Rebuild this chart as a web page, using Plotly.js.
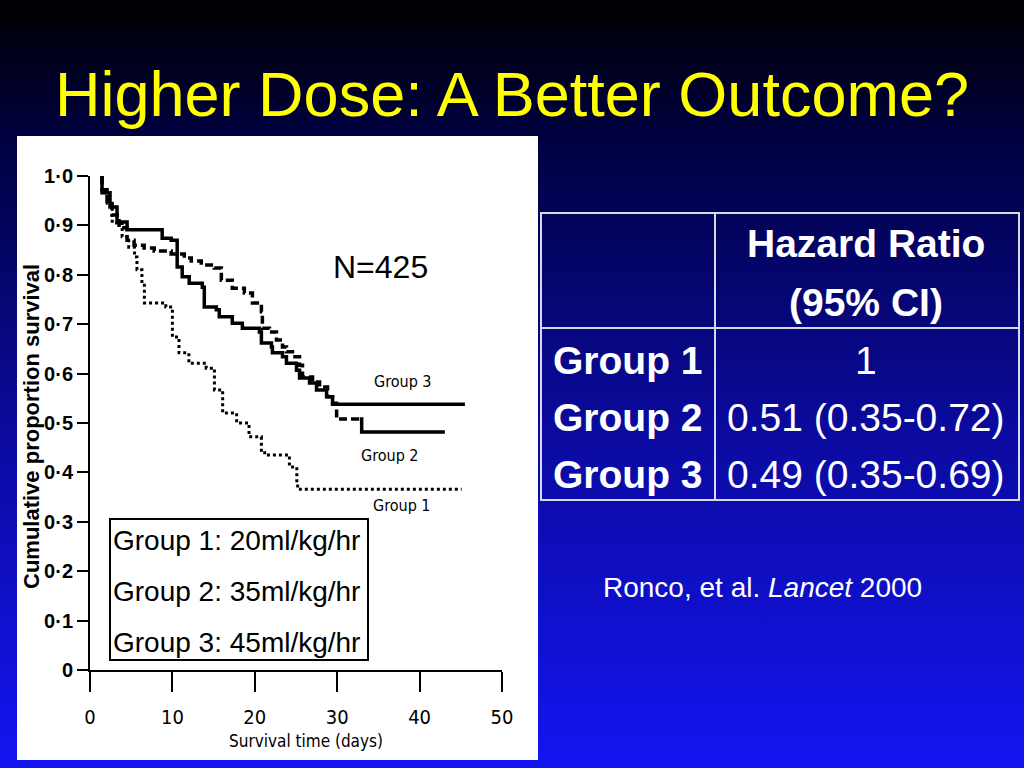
<!DOCTYPE html>
<html>
<head>
<meta charset="utf-8">
<script src="https://cdn.plot.ly/plotly-3.0.1.min.js"></script>
<style>
  html, body { margin: 0; padding: 0; width: 1024px; height: 768px; overflow: hidden; }
  body { background: linear-gradient(180deg, #000000 0%, #000040 18%, #0a0a9c 55%, #1414f2 100%); }
  #chart { width: 1024px; height: 768px; }
</style>
</head>
<body>
<div id="chart"></div>
<script>
// ---- Data ----
const xTicks = [0, 10, 20, 30, 40, 50];
const yTicks = [0, 0.1, 0.2, 0.3, 0.4, 0.5, 0.6, 0.7, 0.8, 0.9, 1.0];
const yTickText = ['0', '0·1', '0·2', '0·3', '0·4', '0·5', '0·6', '0·7', '0·8', '0·9', '1·0'];
const xTitle = 'Survival time (days)';
const yTitle = 'Cumulative proportion survival';

// Group 1 (20 ml/kg/hr) – dotted
const g1Days = [1.46, 1.46, 2.1, 2.7, 3.9, 4.7, 5.4, 5.7, 6.3, 6.6, 9.2, 10.0, 10.0, 10.8, 12.0, 14.1, 15.1, 16.1, 17.8, 19.3, 20.8, 21.2, 24.2, 25.1, 25.2, 45.1];
const g1Surv = [1.0, 0.966, 0.945, 0.905, 0.877, 0.856, 0.836, 0.810, 0.783, 0.743, 0.735, 0.723, 0.674, 0.642, 0.621, 0.611, 0.567, 0.520, 0.500, 0.472, 0.445, 0.435, 0.411, 0.379, 0.366, 0.366];

// Group 2 (35 ml/kg/hr) – dashed, last plateau drawn solid
const g2Days = [1.46, 1.46, 2.07, 2.68, 3.53, 4.50, 5.35, 6.57, 7.79, 9.85, 11.44, 12.29, 13.50, 15.09, 15.94, 17.27, 18.73, 19.71, 20.80, 20.92, 21.78, 22.63, 23.36, 23.84, 24.57, 25.43, 25.79, 27.01, 27.86, 28.83, 29.44, 29.93, 32.73];
const g2Surv = [1.0, 0.972, 0.941, 0.921, 0.895, 0.870, 0.860, 0.854, 0.848, 0.842, 0.834, 0.828, 0.820, 0.814, 0.789, 0.773, 0.763, 0.743, 0.725, 0.692, 0.684, 0.668, 0.654, 0.644, 0.634, 0.617, 0.593, 0.583, 0.573, 0.553, 0.540, 0.508, 0.508];
const g2TailDays = [32.73, 32.97, 43.07];
const g2TailSurv = [0.508, 0.482, 0.482];

// Group 3 (45 ml/kg/hr) – solid
const g3Days = [1.46, 1.46, 2.43, 3.28, 4.50, 8.76, 9.85, 10.58, 11.19, 12.04, 13.63, 13.87, 15.33, 15.69, 17.27, 18.49, 20.56, 20.80, 22.02, 22.14, 23.36, 23.84, 25.06, 25.43, 26.64, 27.49, 28.71, 29.44, 45.5];
const g3Surv = [1.0, 0.966, 0.937, 0.907, 0.891, 0.874, 0.870, 0.816, 0.796, 0.783, 0.775, 0.735, 0.729, 0.715, 0.702, 0.692, 0.684, 0.662, 0.654, 0.642, 0.634, 0.621, 0.607, 0.591, 0.581, 0.567, 0.553, 0.538, 0.538];

const groupNames = ['Group 1', 'Group 2', 'Group 3'];
const doses = ['20ml/kg/hr', '35ml/kg/hr', '45ml/kg/hr'];
const hazardText = ['1', '0.51 (0.35-0.72)', '0.49 (0.35-0.69)'];
const sampleSize = 'N=425';

// ---- Helpers: page pixel -> paper coordinates (margins are zero) ----
const W = 1024, H = 768;
const px = x => x / W;
const py = y => 1 - y / H;

const SANS = 'Liberation Sans, Arial, Helvetica, sans-serif';
const COND = 'DejaVu Sans Condensed, Liberation Sans Narrow, Arial Narrow, sans-serif';

const kmLine = (x, y, name, dash, width) => ({
  type: 'scatter', mode: 'lines', x: x, y: y, name: name,
  line: { shape: 'hv', color: '#000000', width: width, dash: dash },
  hoverinfo: 'skip', showlegend: false
});

const traces = [
  kmLine(g1Days, g1Surv, groupNames[0], 'dot', 3),
  kmLine(g2Days, g2Surv, groupNames[1], '8px,4px', 3.5),
  kmLine(g2TailDays, g2TailSurv, groupNames[1] + ' (plateau)', 'solid', 3.5),
  kmLine(g3Days, g3Surv, groupNames[2], 'solid', 3.5)
];

const shapes = [
  // white picture panel
  { type: 'rect', xref: 'paper', yref: 'paper', x0: px(17), x1: px(538), y0: py(760), y1: py(136),
    fillcolor: '#ffffff', line: { width: 0 }, layer: 'below' },
  // dose legend box
  { type: 'rect', xref: 'paper', yref: 'paper', x0: px(110), x1: px(368), y0: py(660), y1: py(519),
    fillcolor: 'rgba(0,0,0,0)', line: { color: '#000000', width: 2 } },
  // table frame
  { type: 'rect', xref: 'paper', yref: 'paper', x0: px(541), x1: px(1019), y0: py(500), y1: py(213),
    fillcolor: 'rgba(0,0,0,0)', line: { color: '#d8d8e8', width: 2 } },
  { type: 'line', xref: 'paper', yref: 'paper', x0: px(715), x1: px(715), y0: py(500), y1: py(213),
    line: { color: '#d8d8e8', width: 2 } },
  { type: 'line', xref: 'paper', yref: 'paper', x0: px(541), x1: px(1019), y0: py(328), y1: py(328),
    line: { color: '#d8d8e8', width: 2 } }
];

const annotations = [];
const addText = (text, x, y, size, opts) => annotations.push(Object.assign({
  xref: 'paper', yref: 'paper', x: px(x), y: py(y), text: text, showarrow: false,
  xanchor: 'center', yanchor: 'middle', font: { family: SANS, size: size, color: '#000000' }
}, opts || {}));

// axis titles
addText('<b>' + yTitle + '</b>', 31, 427, 22, { textangle: -90 });
addText(xTitle, 306, 741, 17, { font: { family: COND, size: 17, color: '#000000' } });

// chart annotations
addText(sampleSize, 380, 267, 32);
addText(groupNames[2], 403, 381, 16, { font: { family: COND, size: 16, color: '#000000' } });
addText(groupNames[1], 390, 455, 16, { font: { family: COND, size: 16, color: '#000000' } });
addText(groupNames[0], 402, 505, 16, { font: { family: COND, size: 16, color: '#000000' } });
const legendY = [540, 591, 642];
groupNames.forEach((g, i) => addText(g + ': ' + doses[i], 111, legendY[i], 28, { xanchor: 'left' }));

// table
const white = '#ffffff';
addText('<b>Hazard Ratio</b>', 866, 243, 39, { font: { family: SANS, size: 39, color: white } });
addText('<b>(95% CI)</b>', 866, 302, 39, { font: { family: SANS, size: 39, color: white } });
const rowY = [360, 417, 474];
groupNames.forEach((g, i) => {
  addText('<b>' + g + '</b>', 551, rowY[i], 39, { xanchor: 'left', font: { family: SANS, size: 39, color: white } });
  addText(hazardText[i], 866, rowY[i], 39, { font: { family: SANS, size: 39, color: white } });
});

// citation
addText('Ronco, et al. <i>Lancet</i> 2000', 762, 587, 28, { font: { family: SANS, size: 28, color: white } });

const layout = {
  width: W, height: H,
  margin: { l: 0, r: 0, t: 0, b: 0 },
  paper_bgcolor: 'rgba(0,0,0,0)',
  plot_bgcolor: 'rgba(0,0,0,0)',
  showlegend: false,
  title: {
    text: 'Higher Dose: A Better Outcome?',
    font: { family: SANS, size: 63, color: '#ffff00' },
    x: 0.5, xanchor: 'center', xref: 'paper',
    y: py(94), yanchor: 'middle', yref: 'container'
  },
  xaxis: {
    domain: [px(90), px(502)],
    range: [0, 50],
    tickvals: xTicks,
    ticktext: xTicks.map(String),
    ticks: 'outside', ticklen: 20, tickwidth: 2, tickcolor: '#000000',
    ticklabelstandoff: 8,
    showline: true, linecolor: '#000000', linewidth: 2,
    showgrid: false, zeroline: false,
    tickfont: { family: COND, size: 20, color: '#000000' },
    fixedrange: true
  },
  yaxis: {
    domain: [py(670), py(176)],
    range: [0, 1],
    tickvals: yTicks,
    ticktext: yTickText.map(t => '<b>' + t + '</b>'),
    ticks: 'outside', ticklen: 11, tickwidth: 2, tickcolor: '#000000',
    showline: true, linecolor: '#000000', linewidth: 2,
    showgrid: false, zeroline: false,
    tickfont: { family: SANS, size: 20, color: '#000000' },
    fixedrange: true
  },
  shapes: shapes,
  annotations: annotations
};

Plotly.newPlot('chart', traces, layout, { staticPlot: true, displayModeBar: false });
</script>
</body>
</html>
